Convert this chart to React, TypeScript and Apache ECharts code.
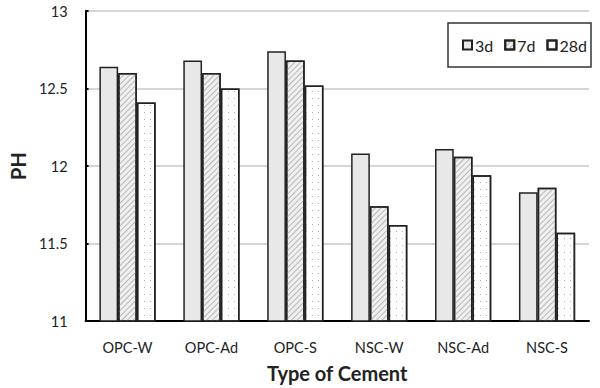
import React, { useEffect, useRef } from "react";
import * as echarts from "echarts";

const categories = ["OPC-W", "OPC-Ad", "OPC-S", "NSC-W", "NSC-Ad", "NSC-S"];
const d3 = [12.64, 12.68, 12.74, 12.08, 12.11, 11.83];
const d7 = [12.6, 12.6, 12.68, 11.74, 12.06, 11.86];
const d28 = [12.41, 12.5, 12.52, 11.62, 11.94, 11.57];
const seriesNames = ["3d", "7d", "28d"];

const FONT = "Lato, 'Liberation Sans', sans-serif";

export default function App() {
  const ref = useRef<HTMLDivElement>(null);
  useEffect(() => {
    if (!ref.current) return;
    const chart = echarts.init(ref.current, null, { renderer: "svg" });
    const border = { borderColor: "#222", borderWidth: 1.5 };
    chart.setOption({
      animation: false,
      textStyle: { fontFamily: FONT },
      grid: { left: 79, right: 11, top: 11, bottom: 66 },
      legend: {
        left: 448,
        top: 23,
        padding: [14, 4, 14, 14],
        borderColor: "#333",
        borderWidth: 1.5,
        itemWidth: 9,
        itemHeight: 9,
        itemGap: 11,
        icon: "rect",
        textStyle: { fontSize: 16, color: "#222", fontFamily: FONT, padding: [0, 0, 0, -2] },
        data: seriesNames,
      },
      xAxis: {
        type: "category",
        data: categories,
        name: "Type of Cement",
        nameLocation: "middle",
        nameGap: 42,
        nameTextStyle: { fontSize: 20, fontWeight: "bold", color: "#222", fontFamily: FONT },
        axisLine: { lineStyle: { color: "#000", width: 2 } },
        axisTick: { inside: true, length: 3, lineStyle: { color: "#000", width: 2 } },
        axisLabel: { fontSize: 14.5, color: "#222", margin: 19, fontFamily: FONT },
      },
      yAxis: {
        type: "value",
        min: 11,
        max: 13,
        interval: 0.5,
        name: "PH",
        nameLocation: "middle",
        nameRotate: 90,
        nameGap: 52,
        nameTextStyle: { fontSize: 20, fontWeight: "bold", color: "#222", fontFamily: FONT },
        axisLine: { show: true, lineStyle: { color: "#000", width: 2 } },
        axisTick: { show: true, inside: true, length: 3, lineStyle: { color: "#000", width: 2 } },
        axisLabel: { fontSize: 14.5, color: "#222", margin: 18, fontFamily: FONT },
        splitLine: { lineStyle: { color: "#c8c8c8", width: 1.5 } },
      },
      series: [
        {
          name: "3d",
          type: "bar",
          data: d3,
          barGap: "0%",
          barCategoryGap: "33%",
          itemStyle: { color: "#e8e8e8", ...border },
        },
        {
          name: "7d",
          type: "bar",
          data: d7,
          barGap: "0%",
          barCategoryGap: "33%",
          itemStyle: {
            color: "#f0f0f0",
            ...border,
            decal: {
              symbol: "rect",
              symbolSize: 1,
              color: "#b8b8b8",
              dashArrayX: [1, 0],
              dashArrayY: [1, 3],
              rotation: -Math.PI / 4,
            },
          },
        },
        {
          name: "28d",
          type: "bar",
          data: d28,
          barGap: "0%",
          barCategoryGap: "33%",
          itemStyle: {
            color: "#ffffff",
            ...border,
            decal: {
              symbol: "rect",
              symbolSize: 1,
              color: "#aaaaaa",
              dashArrayX: [[1, 5]],
              dashArrayY: [1, 6],
              rotation: 0,
            },
          },
        },
      ],
    });
    return () => chart.dispose();
  }, []);
  return <div ref={ref} style={{ width: 600, height: 388, position: "absolute", left: 0, top: 0 }} />;
}
